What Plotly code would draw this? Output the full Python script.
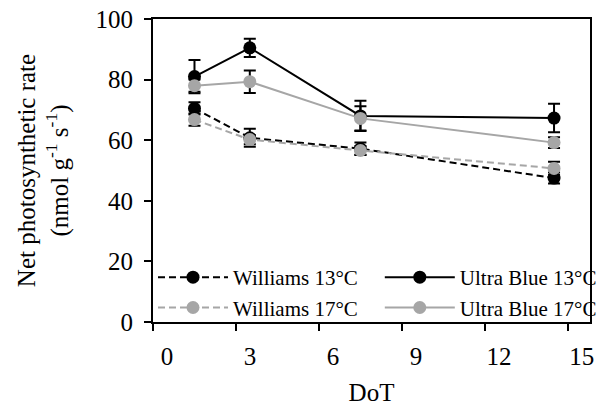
import plotly.graph_objects as go

dot = [1.5, 3.5, 7.5, 14.5]
williams13 = [70.5, 60.8, 57.2, 47.5]
williams13_err = [2.0, 3.0, 2.0, 1.8]
ultrablue13 = [81.0, 90.5, 68.0, 67.3]
ultrablue13_err = [5.5, 3.0, 5.0, 4.7]
williams17 = [66.8, 60.2, 56.6, 50.7]
williams17_err = [2.0, 1.5, 1.5, 2.2]
ultrablue17 = [78.0, 79.3, 67.2, 59.2]
ultrablue17_err = [2.0, 3.7, 4.0, 1.8]

x_ticks = [0, 3, 6, 9, 12, 15]
y_ticks = [0, 20, 40, 60, 80, 100]

FONT = "Liberation Serif"
BLACK = "#000000"
GREY = "#a6a6a6"

fig = go.Figure()

def add(name, y, err, color, dash, legend):
    fig.add_trace(go.Scatter(
        x=dot, y=y, name=name, mode="lines+markers", legend=legend,
        line=dict(color=color, width=2, dash=dash),
        marker=dict(color=color, size=13, symbol="circle"),
        error_y=dict(type="data", array=err, visible=True, color=BLACK,
                     thickness=2, width=6),
    ))

DASH = "7px,4px"
add("Williams 13°C", williams13, williams13_err, BLACK, DASH, "legend")
add("Williams 17°C", williams17, williams17_err, GREY, DASH, "legend")
add("Ultra Blue 13°C", ultrablue13, ultrablue13_err, BLACK, "solid", "legend2")
add("Ultra Blue 17°C", ultrablue17, ultrablue17_err, GREY, "solid", "legend2")

legend_common = dict(
    orientation="v", yanchor="bottom", xanchor="left", y=-0.02,
    itemwidth=70, tracegroupgap=0,
    font=dict(family=FONT, size=21, color=BLACK),
    bgcolor="rgba(0,0,0,0)",
)

fig.update_layout(
    width=607, height=410,
    margin=dict(l=153, r=5, t=19, b=88),
    paper_bgcolor="white", plot_bgcolor="white",
    font=dict(family=FONT, color=BLACK, size=22),
    showlegend=True,
    legend=dict(x=0.0, **legend_common),
    legend2=dict(x=0.519, **legend_common),
    xaxis=dict(
        range=[0, 15.8], tickvals=x_ticks, ticktext=[str(v) for v in x_ticks],
        ticks="outside", ticklen=7, tickwidth=2, tickcolor=BLACK,
        showline=True, linecolor=BLACK, linewidth=2, mirror=True,
        showgrid=False, zeroline=False,
        ticklabelshift=14, ticklabelstandoff=4,
        tickfont=dict(family=FONT, size=25),
        title=dict(text="DoT", font=dict(family=FONT, size=25), standoff=14),
    ),
    yaxis=dict(
        range=[0, 100], tickvals=y_ticks,
        ticks="outside", ticklen=7, tickwidth=2, tickcolor=BLACK,
        showline=True, linecolor=BLACK, linewidth=2, mirror=True,
        showgrid=False, zeroline=False,
        ticklabelstandoff=6,
        tickfont=dict(family=FONT, size=25),
        title=dict(text="Net photosynthetic rate<br>(nmol g<sup>-1</sup> s<sup>-1</sup>)",
                   font=dict(family=FONT, size=25), standoff=20),
    ),
)

fig.write_html("out.html")
